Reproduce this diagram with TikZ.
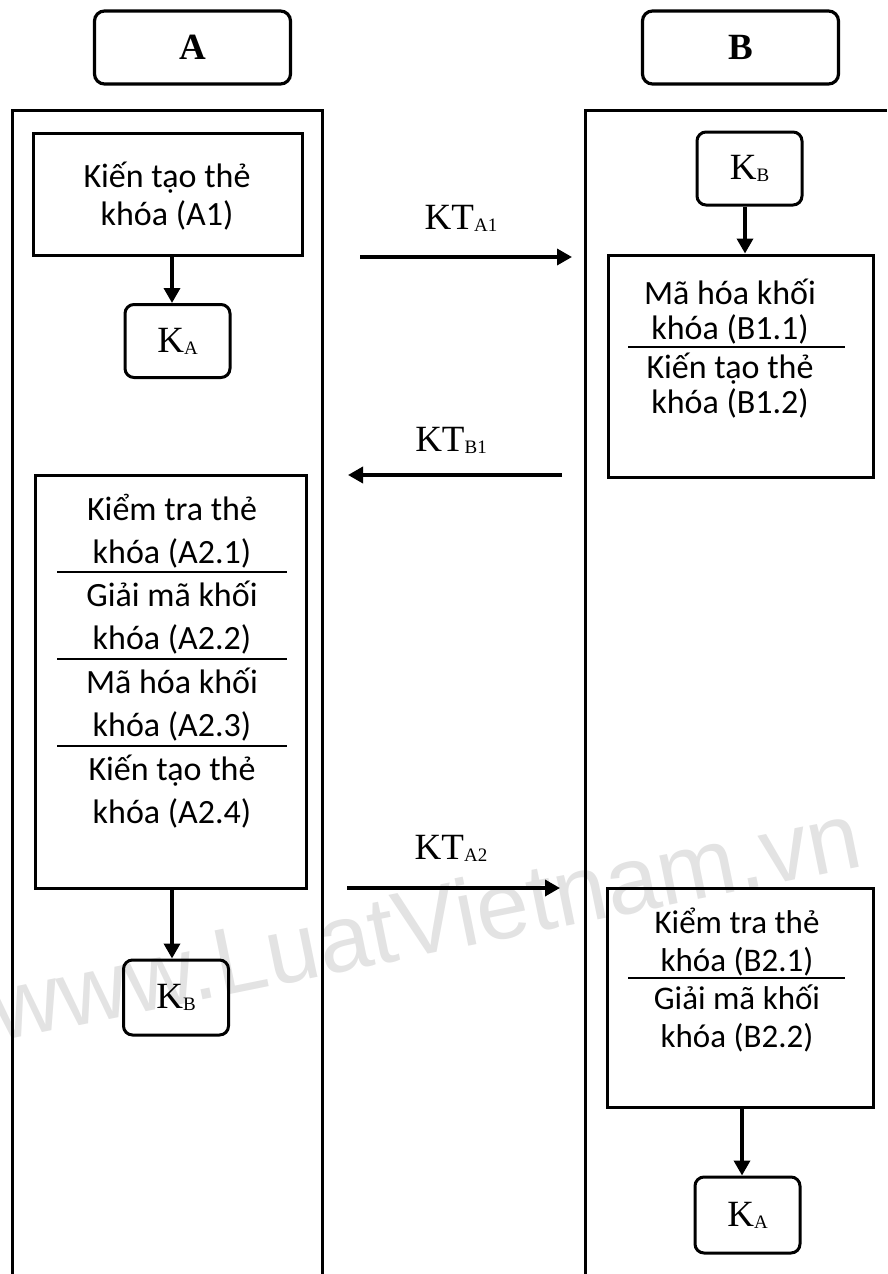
\documentclass[tikz,border=0pt]{standalone}
\usepackage{fontspec}
\setmainfont{Liberation Serif}
\newfontfamily\stepfont{Carlito}
\newfontfamily\markfont{Liberation Sans}
\usetikzlibrary{arrows.meta}
% small lowered subscript used in key and token labels
\newcommand\subtag[1]{{\fontsize{19}{19}\selectfont\raisebox{-2pt}{#1}}}

\begin{document}
\begin{tikzpicture}[x=1pt,y=-1pt,
  lane/.style={line width=3pt},
  header/.style={draw, line width=3.2pt, rounded corners=10pt, minimum width=196pt,
    minimum height=73pt, inner sep=0pt, font=\fontsize{37}{37}\selectfont\bfseries},
  stepbox/.style={draw, line width=3pt, inner sep=0pt},
  keybox/.style={draw, line width=3pt, rounded corners=9pt, inner sep=0pt,
    minimum width=105pt, minimum height=73pt, font=\fontsize{37}{37}\selectfont},
  steptext/.style={align=center, inner sep=0pt},
  token/.style={inner sep=0pt, font=\fontsize{37}{37}\selectfont},
  flow/.style={line width=3.5pt, -{Triangle[length=15pt,width=16pt]}},
  divider/.style={line width=1.3pt},
]
\useasboundingbox (0,0) rectangle (887,1274);

% faint watermark behind everything
\node[anchor=base west, rotate=11.5, inner sep=0pt, text=black!11,
  font=\markfont\fontsize{95}{95}\selectfont] (mark) at (-2,1042) {www.LuatVietnam.vn};

% party headers
\node[header] (hA) at (192.5,47.5) {A};
\node[header] (hB) at (740.5,47.5) {B};

% swimlanes
\draw[lane] (12,1274) -- (12,110) -- (322,110) -- (322,1274);
\draw[lane] (585,1274) -- (585,110) -- (887,110);

% --- lane A ---
\node[stepbox, minimum width=269pt, minimum height=122pt] (a1) at (167.5,194) {};
\node[steptext, font=\stepfont\fontsize{34}{38}\selectfont] (a1t) at (167,196)
  {Kiến tạo thẻ\\khóa (A1)};
\node[keybox] (ka1) at (177.5,341) {K\subtag{A}};
\coordinate (xa) at (172,0);
\draw[flow] (a1.south -| xa) -- (ka1.north -| xa);

\node[stepbox, minimum width=271pt, minimum height=413pt] (a2) at (170.5,681.5) {};
\begin{scope}[every node/.style={steptext, font=\stepfont\fontsize{34}{43}\selectfont}]
  \node (a21) at (172,531) {Kiểm tra thẻ\\khóa (A2.1)};
  \node (a22) at (172,618) {Giải mã khối\\khóa (A2.2)};
  \node (a23) at (172,705) {Mã hóa khối\\khóa (A2.3)};
  \node (a24) at (172,792) {Kiến tạo thẻ\\khóa (A2.4)};
\end{scope}
\draw[divider] (57,572) -- (287,572);
\draw[divider] (57,659) -- (287,659);
\draw[divider] (57,746) -- (287,746);
\node[keybox, minimum height=75pt] (kb2) at (176,997.5) {K\subtag{B}};
\draw[flow] (a2.south -| xa) -- (kb2.north -| xa);

% --- lane B ---
\node[keybox] (kb1) at (749.5,168.5) {K\subtag{B}};
\node[stepbox, minimum width=265pt, minimum height=222pt] (b1) at (740.5,366) {};
\coordinate (xb) at (745,0);
\draw[flow] (kb1.south -| xb) -- (b1.north -| xb);
\begin{scope}[every node/.style={steptext, font=\stepfont\fontsize{34}{35}\selectfont}]
  \node (b11) at (730,312) {Mã hóa khối\\khóa (B1.1)};
  \node (b12) at (730,386) {Kiến tạo thẻ\\khóa (B1.2)};
\end{scope}
\draw[divider] (628,347) -- (845,347);

\node[stepbox, minimum width=266pt, minimum height=219pt] (b2) at (740,997.5) {};
\begin{scope}[every node/.style={steptext, font=\stepfont\fontsize{33}{38}\selectfont}]
  \node (b21) at (737,942) {Kiểm tra thẻ\\khóa (B2.1)};
  \node (b22) at (737,1018) {Giải mã khối\\khóa (B2.2)};
\end{scope}
\draw[divider] (628,978) -- (845,978);
\node[keybox, minimum height=76pt] (ka2) at (747.5,1215) {K\subtag{A}};
\coordinate (xc) at (742,0);
\draw[flow] (b2.south -| xc) -- (ka2.north -| xc);

% --- messages between the parties ---
\coordinate (m1s) at (360,257);
\coordinate (m1e) at (572,257);
\draw[flow] (m1s) -- (m1e);
\node[token] (t1) at (461,218) {KT\subtag{A1}};

\coordinate (m2s) at (562,475);
\coordinate (m2e) at (348,475);
\draw[flow] (m2s) -- (m2e);
\node[token] (t2) at (451,440) {KT\subtag{B1}};

\coordinate (m3s) at (347,888);
\coordinate (m3e) at (560,888);
\draw[flow] (m3s) -- (m3e);
\node[token] (t3) at (451,848) {KT\subtag{A2}};
\end{tikzpicture}
\end{document}
